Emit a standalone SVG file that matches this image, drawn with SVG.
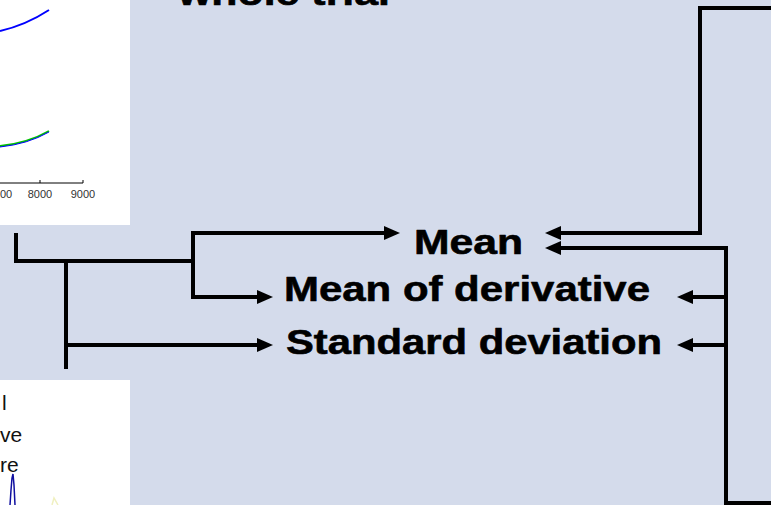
<svg xmlns="http://www.w3.org/2000/svg" width="771" height="505" viewBox="0 0 771 505">
  <defs>
    <style>
      .lbl { font-family: "Liberation Sans", Arial, sans-serif; font-weight: bold; font-size: 35px; fill: #000; stroke: #000; stroke-width: 0.6px; stroke-linejoin: round; }
      .tick { font-family: "Liberation Sans", Arial, sans-serif; font-size: 11px; fill: #333; text-anchor: middle; }
      .leg { font-family: "Liberation Sans", Arial, sans-serif; font-size: 21px; fill: #111; }
      .conn { fill: none; stroke: #000; stroke-width: 4; stroke-linejoin: miter; }
    </style>
    <marker id="ah" markerUnits="userSpaceOnUse" markerWidth="18" markerHeight="16" viewBox="0 -8 18 16" refX="0" refY="0" orient="auto">
      <path d="M0,-7 L16,0 L0,7 Z" fill="#000"/>
    </marker>
  </defs>

  <rect x="0" y="0" width="771" height="505" fill="#D4DBEB"/>

  <g id="plot-top">
    <rect x="0" y="0" width="130" height="225" fill="#FFFFFF"/>
    <path d="M0,31 Q26,25 49,10" fill="none" stroke="#0000FF" stroke-width="2"/>
    <path d="M0,146 Q28,143 49,131" fill="none" stroke="#00C000" stroke-width="2"/>
    <path d="M0,147 Q28,144 49,132" fill="none" stroke="#0000FF" stroke-width="1"/>
    <path d="M0,183 H83 M40,183 V180 M83,183 V180" fill="none" stroke="#000" stroke-width="1"/>
    <text class="tick" x="6" y="198">00</text>
    <text class="tick" x="40" y="198">8000</text>
    <text class="tick" x="83" y="198">9000</text>
  </g>

  <g id="plot-bottom">
    <rect x="0" y="380" width="130" height="125" fill="#FFFFFF"/>
    <text class="leg" x="2" y="410">l</text>
    <text class="leg" x="0" y="442">ve</text>
    <text class="leg" x="0" y="472">re</text>
    <path d="M10,505 L11,490 L12,478 L13,474 L14,485 L15,505" fill="none" stroke="#1010A0" stroke-width="1.5"/>
    <path d="M52,505 L54,498 L58,505" fill="none" stroke="#F0F0C0" stroke-width="1.5"/>
  </g>

  <g id="title">
    <text class="lbl" x="178" y="5" textLength="212" lengthAdjust="spacingAndGlyphs">whole trial</text>
  </g>

  <g id="node-mean">
    <text class="lbl" x="414" y="254" textLength="109" lengthAdjust="spacingAndGlyphs">Mean</text>
  </g>
  <g id="node-mean-derivative">
    <text class="lbl" x="284" y="301" textLength="366" lengthAdjust="spacingAndGlyphs">Mean of derivative</text>
  </g>
  <g id="node-std">
    <text class="lbl" x="286" y="354" textLength="376" lengthAdjust="spacingAndGlyphs">Standard deviation</text>
  </g>

  <g id="connectors">
    <path class="conn" d="M16,233 V261 H193"/>
    <path class="conn" d="M193,261 V233 H384" marker-end="url(#ah)"/>
    <path class="conn" d="M193,261 V297 H257" marker-end="url(#ah)"/>
    <path class="conn" d="M66,261 V369"/>
    <path class="conn" d="M66,345 H257" marker-end="url(#ah)"/>
    <path class="conn" d="M771,8 H700 V233 H561" marker-end="url(#ah)"/>
    <path class="conn" d="M771,503 H726 V248 H561" marker-end="url(#ah)"/>
    <path class="conn" d="M726,297 H693" marker-end="url(#ah)"/>
    <path class="conn" d="M726,345 H693" marker-end="url(#ah)"/>
  </g>
</svg>
